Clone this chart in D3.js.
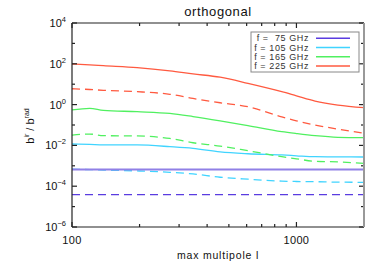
<!DOCTYPE html>
<html><head><meta charset="utf-8">
<script src="https://cdn.jsdelivr.net/npm/d3@7"></script>
<style>body{margin:0;background:#fff}svg{display:block;font-family:"Liberation Sans",Arial,sans-serif}</style>
</head><body>
<svg id="c" width="387" height="273"></svg>
<script>
const ell = [100, 120, 138, 195, 273, 346, 457, 608, 860, 1000, 1210, 1530, 2000];
const red225 = [98, 89, 81, 65, 45, 32, 22, 11, 4.3, 2.7, 1.5, 0.95, 0.71];
const red225d = [6.0, 5.5, 5.0, 4.3, 3.2, 2.0, 1.23, 0.79, 0.25, 0.16, 0.10, 0.063, 0.039];
const green165 = [0.55, 0.66, 0.52, 0.45, 0.37, 0.26, 0.16, 0.093, 0.047, 0.038, 0.030, 0.025, 0.024];
const green165d = [0.032, 0.036, 0.030, 0.029, 0.022, 0.0135, 0.0093, 0.0055, 0.0028, 0.0022, 0.00166, 0.00155, 0.00132];
const cyan105 = [0.0117, 0.0112, 0.0107, 0.0105, 0.0087, 0.0072, 0.0048, 0.0039, 0.0034, 0.0031, 0.0028, 0.00275, 0.0027];
const cyan105d = [6.8e-4, 6.5e-4, 6.2e-4, 5.6e-4, 4.8e-4, 4.0e-4, 2.75e-4, 2.2e-4, 1.78e-4, 1.7e-4, 1.66e-4, 1.58e-4, 1.55e-4];
const blue75 = [6.6e-4, 6.6e-4, 6.6e-4, 6.6e-4, 6.6e-4, 6.6e-4, 6.6e-4, 6.6e-4, 6.6e-4, 6.6e-4, 6.6e-4, 6.6e-4, 6.6e-4];
const blue75d = [3.9e-5, 3.9e-5, 3.9e-5, 3.9e-5, 3.9e-5, 3.9e-5, 3.9e-5, 3.9e-5, 3.9e-5, 3.9e-5, 3.9e-5, 3.9e-5, 3.9e-5];
const legendLabels = ["f =  75 GHz", "f = 105 GHz", "f = 165 GHz", "f = 225 GHz"];
const colors = ["#5a3ce0", "#40d4ff", "#50f060", "#ff5a40"];
const yTickExps = [4, 2, 0, -2, -4, -6];
const xTickLabels = [100, 1000];

const svg = d3.select("#c");
const L = 72, R = 364, T = 23, B = 227;
const x = d3.scaleLog().domain([100, 2000]).range([L, R]);
const y = d3.scaleLog().domain([1e-6, 1e4]).range([B, T]);

const series = [
  {v: cyan105d, c: colors[1], d: true, w: 1.3},
  {v: blue75d, c: colors[0], d: true, w: 1.3},
  {v: blue75, c: "#9080e6", d: false, w: 2},
  {v: cyan105, c: colors[1], d: false, w: 1.3},
  {v: green165d, c: colors[2], d: true, w: 1.3},
  {v: green165, c: colors[2], d: false, w: 1.3},
  {v: red225d, c: colors[3], d: true, w: 1.3},
  {v: red225, c: colors[3], d: false, w: 1.3}
];
const line = d3.line().x(d => x(d[0])).y(d => y(d[1])).curve(d3.curveMonotoneX);
series.forEach(s => {
  svg.append("path").attr("d", line(ell.map((l, i) => [l, s.v[i]])))
    .attr("fill", "none").attr("stroke", s.c).attr("stroke-width", s.w)
    .attr("stroke-dasharray", s.d ? "8,5" : null);
});

// frame
const g = svg.append("g").attr("stroke", "#222").attr("stroke-width", 1.2);
g.append("line").attr("x1", L).attr("x2", L).attr("y1", T).attr("y2", B);
g.append("line").attr("x1", L).attr("x2", R).attr("y1", B).attr("y2", B);
g.append("line").attr("x1", L).attr("x2", R).attr("y1", T).attr("y2", T);
svg.append("line").attr("x1", R).attr("x2", R).attr("y1", T).attr("y2", B).attr("stroke", "#999").attr("stroke-width", 2);

// x ticks
const xt = [];
for (let k = 100; k <= 2000; k += (k < 1000 ? 100 : 1000)) xt.push(k);
xt.forEach(v => {
  const len = (v === 100 || v === 1000) ? 5 : 3;
  g.append("line").attr("x1", x(v)).attr("x2", x(v)).attr("y1", B).attr("y2", B - len);
  g.append("line").attr("x1", x(v)).attr("x2", x(v)).attr("y1", T).attr("y2", T + len);
});
// y ticks
for (let e = -6; e <= 4; e++) {
  const len = (e % 2 === 0) ? 5 : 3;
  g.append("line").attr("x1", L).attr("x2", L + len).attr("y1", y(10 ** e)).attr("y2", y(10 ** e));
  g.append("line").attr("x1", R).attr("x2", R - len).attr("y1", y(10 ** e)).attr("y2", y(10 ** e));
}
// y tick labels
yTickExps.forEach(e => {
  const t = svg.append("text").attr("x", 66).attr("y", y(10 ** e) + 4).attr("text-anchor", "end")
    .attr("font-size", 11).attr("fill", "#111");
  t.append("tspan").text("10");
  t.append("tspan").attr("dy", -5).attr("font-size", 7.5).text(e < 0 ? "\u2212" + (-e) : e);
});
// x tick labels
xTickLabels.forEach(v => {
  svg.append("text").attr("x", x(v)).attr("y", 244).attr("text-anchor", "middle")
    .attr("font-size", 11).attr("fill", "#111").attr("letter-spacing", 0.3).text(v);
});
// titles
svg.append("text").attr("x", 218).attr("y", 16).attr("text-anchor", "middle")
  .attr("font-size", 13).attr("fill", "#111").attr("letter-spacing", 0.6).text("orthogonal");
svg.append("text").attr("x", 218).attr("y", 259).attr("text-anchor", "middle")
  .attr("font-size", 10.5).attr("fill", "#111").attr("letter-spacing", 0.8).text("max multipole l");
const yt = svg.append("text").attr("transform", "translate(34,126) rotate(-90)")
  .attr("text-anchor", "middle").attr("font-size", 11).attr("fill", "#111");
yt.append("tspan").text("b");
yt.append("tspan").attr("dy", -5).attr("font-size", 7).text("ir");
yt.append("tspan").attr("dy", 5).text(" / b");
yt.append("tspan").attr("dy", -5).attr("font-size", 7).text("rad");

// legend
svg.append("rect").attr("x", 251).attr("y", 32).attr("width", 108).attr("height", 40)
  .attr("fill", "#fff").attr("stroke", "#888").attr("stroke-width", 1);
legendLabels.forEach((lab, i) => {
  const yy = 38.3 + i * 9.2;
  svg.append("text").attr("x", 309).attr("y", yy + 3).attr("text-anchor", "end")
    .attr("font-size", 9).attr("fill", "#333").attr("letter-spacing", 0.6)
    .attr("xml:space", "preserve").style("white-space", "pre").text(lab);
  svg.append("line").attr("x1", 316).attr("x2", 350).attr("y1", yy).attr("y2", yy)
    .attr("stroke", colors[i]).attr("stroke-width", 1.5);
});
</script>
</body></html>
